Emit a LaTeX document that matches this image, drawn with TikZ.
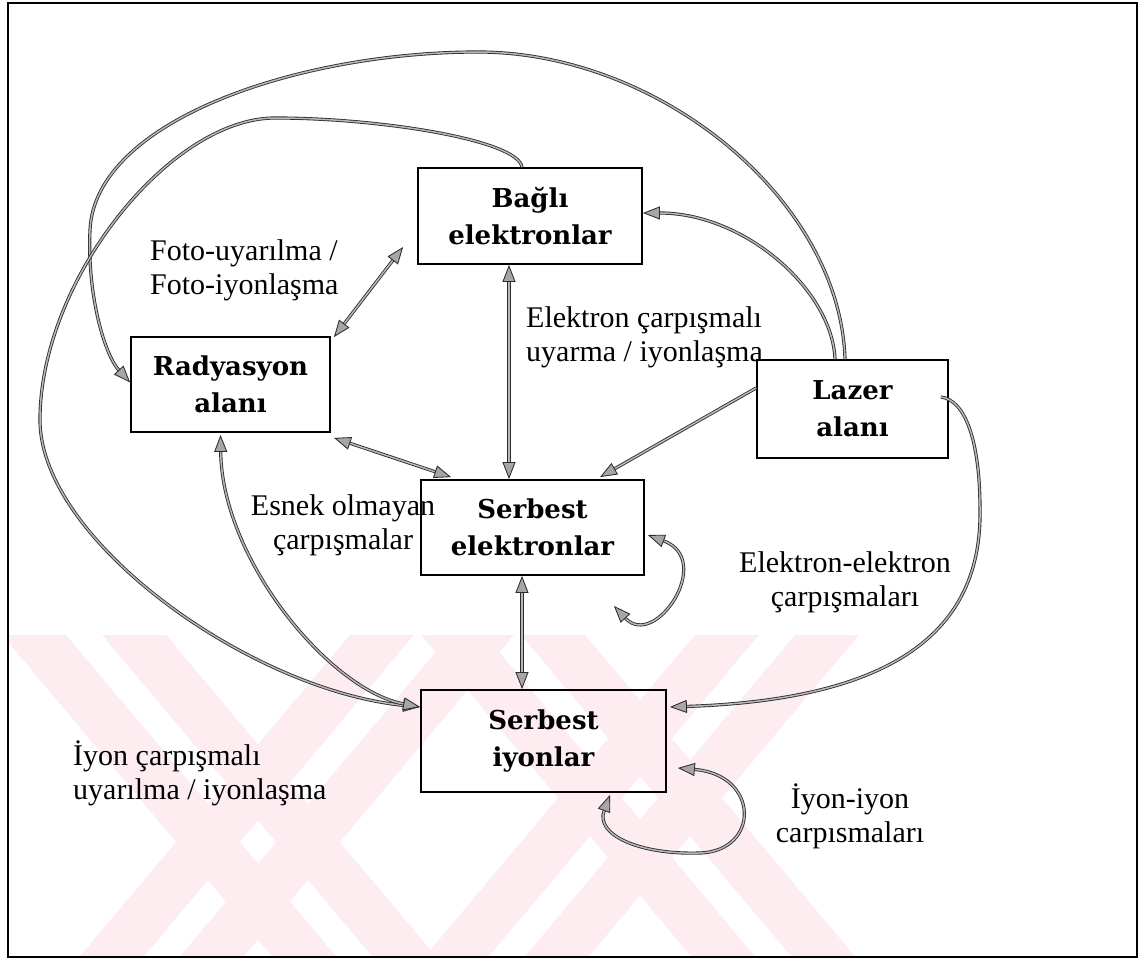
\documentclass[tikz,border=0pt]{standalone}
\usepackage{fontspec}
\setmainfont{Liberation Serif}
\newfontfamily\boxfont{DejaVu Serif}
\usetikzlibrary{arrows.meta}
\definecolor{wmpink}{RGB}{253,237,241}
\definecolor{lineg}{RGB}{45,45,45}
\begin{document}
\begin{tikzpicture}[x=1pt,y=-1pt,
  box/.style={draw=black, line width=1.8pt, inner sep=0pt, align=center,
    font=\boxfont\bfseries\fontsize{26}{37}\selectfont},
  lbl/.style={inner sep=0pt, font=\fontsize{30}{34}\selectfont},
  conn/.style={draw=lineg, line width=0.85pt, double=black!28, double distance=1.5pt,
    arrows={-}, >={Triangle[length=17pt, width=13pt, fill=black!35]}},
]
\useasboundingbox (0,0) rectangle (1147,960);
% watermark (two striped X shapes)
\begin{scope}
\clip (8,635) rectangle (1137,957);
\foreach \cx/\cy in {258/842, 640/798}{
  \foreach \s in {0.84,-0.84}{
    \foreach \oa/\ob in {-82/-18, 18/82}{
      \fill[wmpink] ({\cx+\oa+\s*(600-\cy)},600) -- ({\cx+\ob+\s*(600-\cy)},600)
        -- ({\cx+\ob+\s*(1000-\cy)},1000) -- ({\cx+\oa+\s*(1000-\cy)},1000) -- cycle;
    }
  }
}
\end{scope}
% frame
\node[draw=black, line width=1.8pt, minimum width=1129pt, minimum height=954pt, inner sep=0pt] (frame) at (572.5,480) {};
% boxes
\node[box, minimum width=224pt, minimum height=96pt] (bagli) at (530,216) {Bağlı\\elektronlar};
\node[box, minimum width=199pt, minimum height=95pt] (rad) at (230.5,384.5) {Radyasyon\\alanı};
\node[box, minimum width=223pt, minimum height=95pt] (sel) at (532.5,527.5) {Serbest\\elektronlar};
\node[box, minimum width=191pt, minimum height=98pt] (laz) at (852.5,409) {Lazer\\alanı};
\node[box, minimum width=245pt, minimum height=102pt] (sion) at (543.5,741) {Serbest\\iyonlar};
% labels
\node[lbl, anchor=west, align=left] (l1) at (150,270) {Foto-uyarılma /\\Foto-iyonlaşma};
\node[lbl, anchor=west, align=left] (l2) at (526,337) {Elektron çarpışmalı\\uyarma / iyonlaşma};
\node[lbl, align=center] (l3) at (343,525) {Esnek olmayan\\çarpışmalar};
\node[lbl, align=center] (l4) at (845,582) {Elektron-elektron\\çarpışmaları};
\node[lbl, anchor=west, align=left] (l5) at (73,773) {İyon çarpışmalı\\uyarılma / iyonlaşma};
\node[lbl, align=center] (l6) at (850,816) {İyon-iyon\\carpısmaları};
% connectors
\draw[conn,<->] ([shift={(-14,31)}]bagli.west) -- ([shift={(3,1)}]rad.north east);
\draw[conn,<->] ([shift={(-21,0)}]bagli.south) -- ([shift={(-23.5,0)}]sel.north);
\draw[conn,<->] ([shift={(3,5)}]rad.south east) -- ([shift={(31,-2)}]sel.north west);
\draw[conn,->] ([shift={(0,-21)}]laz.west) -- ([shift={(67.5,-2)}]sel.north);
\draw[conn,->] ([shift={(-17.5,0)}]laz.north) .. controls (832,290) and (745,213) .. ([shift={(0,-3)}]bagli.east);
\draw[conn,->] ([shift={(-7.5,0)}]laz.north) .. controls (840,200) and (660,52) .. (478,52)
  .. controls (300,52) and (95,120) .. (90,230)
  .. controls (87,296) and (105,355) .. ([shift={(0,-2)}]rad.west);
\draw[conn,->] ([shift={(-8,0)}]bagli.north) .. controls (518,140) and (380,118) .. (275,118)
  .. controls (170,118) and (40,280) .. (40,420)
  .. controls (40,540) and (250,690) .. ([shift={(0,-34)}]sion.west);
\draw[conn,<->] ([shift={(-10,2)}]rad.south) .. controls (222,560) and (330,690) .. ([shift={(0,-34)}]sion.west);
\draw[conn,<->] ([shift={(-10.5,0)}]sel.south) -- ([shift={(-21.5,0)}]sion.north);
\draw[conn,<->] ([shift={(-31,30)}]sel.south east) .. controls (655,650) and (715,560) .. ([shift={(3,7.5)}]sel.east);
\draw[conn,<->] ([shift={(66.5,2)}]sion.south) .. controls (595,835) and (640,855) .. (700,853)
  .. controls (760,851) and (760,775) .. ([shift={(11,27)}]sion.east);
\draw[conn,->] ([shift={(-8,-12)}]laz.east) .. controls (965,400) and (980,440) .. (980,510)
  .. controls (982,640) and (880,700) .. ([shift={(3,-34)}]sion.east);
\end{tikzpicture}
\end{document}
